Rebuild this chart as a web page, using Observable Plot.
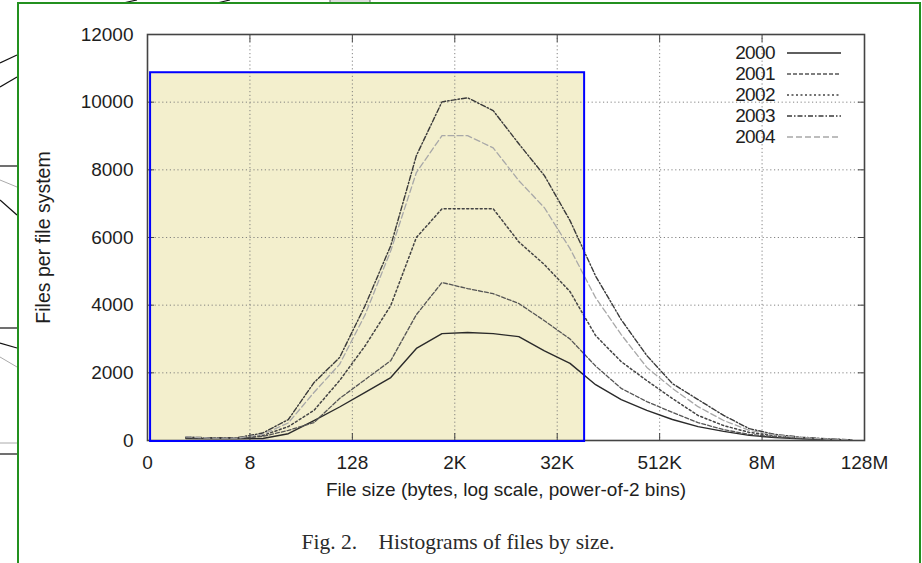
<!DOCTYPE html>
<html>
<head>
<meta charset="utf-8">
<script src="https://cdn.jsdelivr.net/npm/d3@7"></script>
<script src="https://cdn.jsdelivr.net/npm/@observablehq/plot@0.6"></script>
<style>
  html, body { margin: 0; padding: 0; background: #fff; }
  body { width: 922px; height: 563px; overflow: hidden; position: relative; font-family: "Liberation Sans", Arial, Helvetica, sans-serif; }
  #deco { position: absolute; left: 0; top: 0; }
  #border { position: absolute; left: 17px; top: 2px; width: 904px; height: 620px; border: 2px solid #23901f; box-sizing: border-box; }
  #chart { position: absolute; left: 0; top: 0; }
  #legend { position: absolute; left: 690px; top: 42px; font-size: 19px; color: #1e1e1e; line-height: 21px; }
  #legend .row { display: flex; align-items: center; height: 21px; }
  #legend .lab { width: 85px; text-align: right; letter-spacing: -0.6px; }
  #legend svg { margin-left: 12px; }
  #caption { position: absolute; left: 0; width: 916px; top: 530px; text-align: center; font-family: "Liberation Serif", "Times New Roman", serif; font-size: 21.5px; color: #2a2a2a; }
</style>
</head>
<body>
<svg id="deco" width="922" height="563">
  <g stroke="#111" stroke-width="1.2" fill="none">
    <line x1="0" y1="63" x2="17" y2="55"/>
    <line x1="0" y1="87" x2="17" y2="77"/>
    <line x1="0" y1="166" x2="17" y2="166"/>
    <line x1="0" y1="200" x2="17" y2="215"/>
    <line x1="0" y1="328" x2="17" y2="328"/>
    <line x1="0" y1="343" x2="17" y2="348"/>
    <line x1="0" y1="454" x2="17" y2="454"/>
    <line x1="123" y1="3" x2="137" y2="0"/>
    <line x1="217" y1="3" x2="230" y2="0"/>
  </g>
  <g stroke="#aaa" stroke-width="1" fill="none">
    <line x1="0" y1="180" x2="17" y2="187"/>
    <line x1="0" y1="357" x2="17" y2="367"/>
    <line x1="0" y1="443" x2="17" y2="443"/>
  </g>
  <rect x="330" y="-2" width="40" height="5" fill="#ddd" stroke="#666"/>
</svg>
<div id="border"></div>
<div id="chart"></div>
<div id="legend"></div>
<div id="caption">Fig. 2.&nbsp;&nbsp;&nbsp; Histograms of files by size.</div>
<script>
// ---- data ----
const years = ["2000", "2001", "2002", "2003", "2004"];
// bin centres on the power-of-2 axis (axis unit = one power of 2)
const binX = [1.5, 2.5, 3.5, 4.5, 5.5, 6.5, 7.5, 8.5, 9.5, 10.5, 11.5, 12.5, 13.5, 14.5,
              15.5, 16.5, 17.5, 18.5, 19.5, 20.5, 21.5, 22.5, 23.5, 24.5, 25.5, 26.5, 27.5];
const files2000 = [60, 50, 50, 60, 200, 590, 990, 1420, 1860, 2720, 3160, 3190, 3160, 3070,
                   2650, 2280, 1650, 1210, 890, 620, 410, 270, 150, 90, 50, 25, 10];
const files2001 = [80, 60, 60, 120, 300, 530, 1240, 1800, 2360, 3720, 4670, 4490, 4340, 4050,
                   3540, 3000, 2200, 1540, 1150, 830, 530, 320, 180, 110, 60, 30, 10];
const files2002 = [90, 70, 70, 150, 410, 890, 1770, 2800, 3990, 6000, 6850, 6850, 6850, 5870,
                   5200, 4400, 3100, 2330, 1770, 1240, 740, 440, 240, 140, 80, 40, 15];
const files2003 = [100, 80, 80, 220, 620, 1710, 2450, 3990, 5760, 8420, 10010, 10130, 9750, 8770,
                   7830, 6500, 4860, 3570, 2510, 1680, 1210, 740, 350, 180, 100, 50, 20];
const files2004 = [110, 70, 70, 180, 520, 1420, 2250, 3720, 5610, 7920, 9010, 9010, 8650, 7680,
                   6880, 5670, 4220, 3130, 2160, 1540, 1000, 590, 300, 160, 90, 45, 20];
const xTickPos = [0, 4, 8, 12, 16, 20, 24, 28];
const xTickLabels = ["0", "8", "128", "2K", "32K", "512K", "8M", "128M"];
const yTicks = [0, 2000, 4000, 6000, 8000, 10000, 12000];
const highlight = [{x1: 0.12, x2: 17.07, y1: -30, y2: 10870}];
const xLabel = "File size (bytes, log scale, power-of-2 bins)";
const yLabel = "Files per file system";

// ---- styles ----
const seriesStyle = {
  "2000": {stroke: "#2a2a2a", dash: null, width: 1.4},
  "2001": {stroke: "#555", dash: "4,2", width: 1.3},
  "2002": {stroke: "#444", dash: "2,2.5", width: 1.5},
  "2003": {stroke: "#3a3a3a", dash: "5,2,1.5,2", width: 1.4},
  "2004": {stroke: "#a8a8a8", dash: "6,3", width: 1.3}
};

const seriesValues = [files2000, files2001, files2002, files2003, files2004];
const rows = years.flatMap((yr, k) => binX.map((x, i) => ({year: yr, x, files: seriesValues[k][i]})));

const fontFam = '"Liberation Sans", Arial, Helvetica, sans-serif';
const noText = () => "";

const chart = Plot.plot({
  width: 922,
  height: 515,
  marginLeft: 147,
  marginRight: 58,
  marginTop: 34,
  marginBottom: 75,
  style: {fontFamily: fontFam, fontSize: "19px", color: "#1e1e1e", background: "transparent", overflow: "visible"},
  x: {type: "linear", domain: [0, 28]},
  y: {domain: [0, 12000]},
  marks: [
    Plot.rect(highlight, {x1: "x1", x2: "x2", y1: "y1", y2: "y2", fill: "#e8df9c", fillOpacity: 0.5}),
    Plot.gridX(xTickPos, {stroke: "#777", strokeOpacity: 0.9, strokeDasharray: "1.2,2.6"}),
    Plot.gridY(yTicks, {stroke: "#777", strokeOpacity: 0.9, strokeDasharray: "1.2,2.6"}),
    ...years.map(yr => Plot.line(rows.filter(d => d.year === yr), {
      x: "x", y: "files",
      stroke: seriesStyle[yr].stroke,
      strokeWidth: seriesStyle[yr].width,
      strokeDasharray: seriesStyle[yr].dash
    })),
    Plot.frame({stroke: "#444", strokeWidth: 1.6}),
    // inward ticks on all four sides
    Plot.axisX(xTickPos, {anchor: "bottom", tickSize: 7, dy: -7, tickFormat: noText, label: null, stroke: "#444"}),
    Plot.axisX(xTickPos, {anchor: "top", tickSize: 7, dy: 7, tickFormat: noText, label: null, stroke: "#444"}),
    Plot.axisY(yTicks, {anchor: "left", tickSize: 7, dx: 7, tickFormat: noText, label: null, stroke: "#444"}),
    Plot.axisY(yTicks, {anchor: "right", tickSize: 7, dx: -7, tickFormat: noText, label: null, stroke: "#444"}),
    // tick labels
    Plot.axisX(xTickPos, {anchor: "bottom", tickSize: 0, tickPadding: 15, fontSize: 19, label: null,
      tickFormat: d => xTickLabels[xTickPos.indexOf(d)]}),
    Plot.axisY(yTicks, {anchor: "left", tickSize: 0, tickPadding: 14, fontSize: 19, label: null,
      tickFormat: d => String(d)}),
    // axis titles
    Plot.text([xLabel], {frameAnchor: "bottom", textAnchor: "middle", dy: 55, text: d => d, fontSize: 19, fill: "#1e1e1e"}),
    Plot.text([yLabel], {frameAnchor: "left", textAnchor: "middle", dx: -104, rotate: -90, text: d => d, fontSize: 19.5, fill: "#1e1e1e"}),
    Plot.rect(highlight, {x1: "x1", x2: "x2", y1: "y1", y2: "y2", fill: "none", stroke: "#0000ff", strokeWidth: 2})
  ]
});
document.getElementById("chart").appendChild(chart);

// legend
const legend = document.getElementById("legend");
years.forEach(yr => {
  const s = seriesStyle[yr];
  const row = document.createElement("div");
  row.className = "row";
  row.innerHTML = `<span class="lab">${yr}</span><svg width="56" height="10"><line x1="0" y1="5" x2="54" y2="5" stroke="${s.stroke}" stroke-width="${s.width}" ${s.dash ? `stroke-dasharray="${s.dash}"` : ""}/></svg>`;
  legend.appendChild(row);
});
</script>
</body>
</html>
